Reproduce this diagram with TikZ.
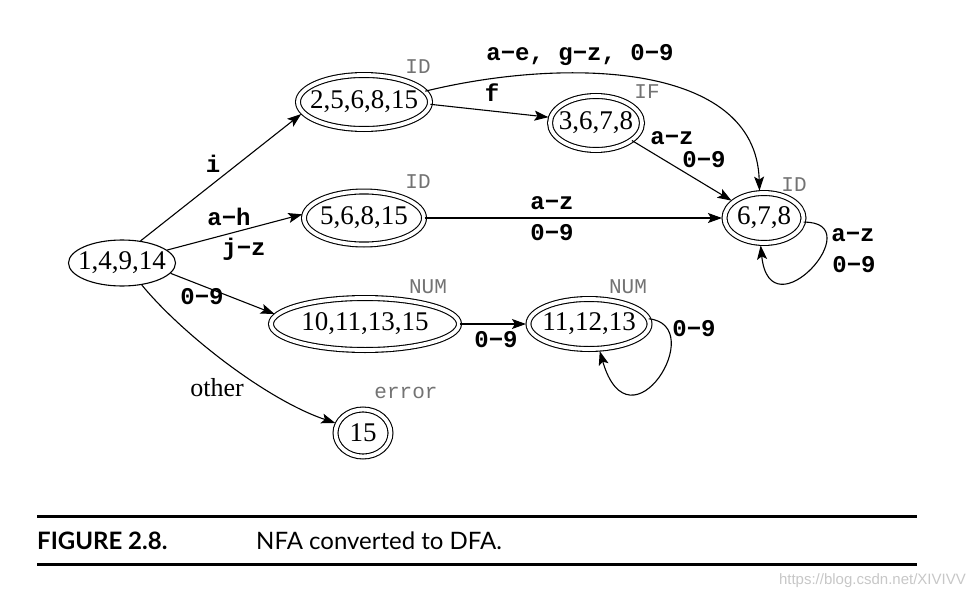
\documentclass[tikz,border=0pt]{standalone}
\usepackage{fontspec}
\setmainfont{Liberation Serif}
\newfontfamily\monof{Liberation Mono}
\newfontfamily\capfont{Lato}
\newfontfamily\wmfont{Liberation Sans}
\usetikzlibrary{shapes.geometric,arrows.meta}
\newcommand\stxt[1]{\makebox[0pt]{#1}}
\begin{document}
\begin{tikzpicture}[x=1pt,y=-1pt,
  st/.style={ellipse, draw, line width=1.1pt, inner sep=0pt, font=\fontsize{27}{27}\selectfont},
  acc/.style={st, double, double distance=3.8pt},
  lab/.style={font=\monof\bfseries\fontsize{24}{24}\selectfont, inner sep=0pt},
  tag/.style={font=\monof\fontsize{21}{21}\selectfont, text=black!55, inner sep=0pt},
  arr/.style={line width=1.1pt, shorten >=2pt, -{Stealth[length=14pt,width=10pt,inset=3pt]}},
  rule/.style={line width=3pt}
]
\useasboundingbox (0,0) rectangle (975,597);

% states
\node[st, minimum width=107pt, minimum height=46pt] (A) at (122,263) {\stxt{1,4,9,14}};
\node[acc, minimum width=132pt, minimum height=54pt] (B) at (364,102) {\stxt{2,5,6,8,15}};
\node[acc, minimum width=120pt, minimum height=53pt] (C) at (364,218) {\stxt{5,6,8,15}};
\node[acc, minimum width=92pt, minimum height=54pt] (D) at (596,123) {\stxt{3,6,7,8}};
\node[acc, minimum width=79pt, minimum height=50pt] (E) at (764,218) {\stxt{6,7,8}};
\node[acc, minimum width=188pt, minimum height=52pt] (F) at (365,324) {\stxt{10,11,13,15}};
\node[acc, minimum width=121pt, minimum height=50pt] (G) at (589,324) {\stxt{11,12,13}};
\node[acc, minimum width=55pt, minimum height=47pt] (H) at (363,433) {\stxt{15}};

% tags
\node[tag] (tB) at (418,67) {ID};
\node[tag] (tC) at (418,182) {ID};
\node[tag] (tD) at (647,92) {IF};
\node[tag] (tE) at (794,185) {ID};
\node[tag] (tF) at (428,287) {NUM};
\node[tag] (tG) at (628,287) {NUM};
\node[tag] (tH) at (406,393) {error};

% transitions
\draw[arr] (A.50) -- (B.190);
\draw[arr] (A.16) -- (C.176);
\draw[arr] (A.-12) -- (F.174);
\draw[arr] (A.-48) .. controls (182,334) and (267,400) .. (H.160);
\draw[arr] (B.10) .. controls (560,58) and (756,60) .. (E.100);
\draw[arr] (B.-2) -- (D.173);
\draw[arr] (D.-26) -- (E.152);
\draw[arr] (C.east) -- (E.west);
\draw[arr] (E.-6) .. controls (872,221) and (770,336) .. (E.-98);
\draw[arr] (F.east) -- (G.west);
\draw[arr] (G.5) .. controls (710,325) and (630,455) .. (G.-68);

% labels
\node[lab] (li) at (213,164) {i};
\node[lab] (lah) at (229,217) {a−h};
\node[lab] (ljz) at (244,249) {j−z};
\node[lab] (l09) at (202,297) {0−9};
\node[font=\fontsize{26}{26}\selectfont, inner sep=0pt] (lother) at (217,388) {other};
\node[lab] (lbe) at (580,55) {a−e, g−z, 0−9};
\node[lab] (lf) at (492,93) {f};
\node[lab] (ldz) at (672,138) {a−z};
\node[lab] (ld9) at (704,160) {0−9};
\node[lab] (lcz) at (552,203) {a−z};
\node[lab] (lc9) at (552,233) {0−9};
\node[lab] (lez) at (853,235) {a−z};
\node[lab] (le9) at (854,265) {0−9};
\node[lab] (lfg) at (496,340) {0−9};
\node[lab] (lgg) at (694,329) {0−9};

% caption
\draw[rule] (37,516) -- (917,516);
\draw[rule] (37,564) -- (917,564);
\node[anchor=base west, inner sep=0pt, font=\capfont\bfseries\fontsize{24}{24}\selectfont] (fig) at (37,549) {FIGURE 2.8.};
\node[anchor=base west, inner sep=0pt, font=\capfont\fontsize{24}{24}\selectfont] (cap) at (256,549) {NFA converted to DFA.};
\node[anchor=base east, inner sep=0pt, font=\wmfont\fontsize{15}{15}\selectfont, text=black!22] (wm) at (966,584) {https://blog.csdn.net/XIVIVV};
\end{tikzpicture}
\end{document}
